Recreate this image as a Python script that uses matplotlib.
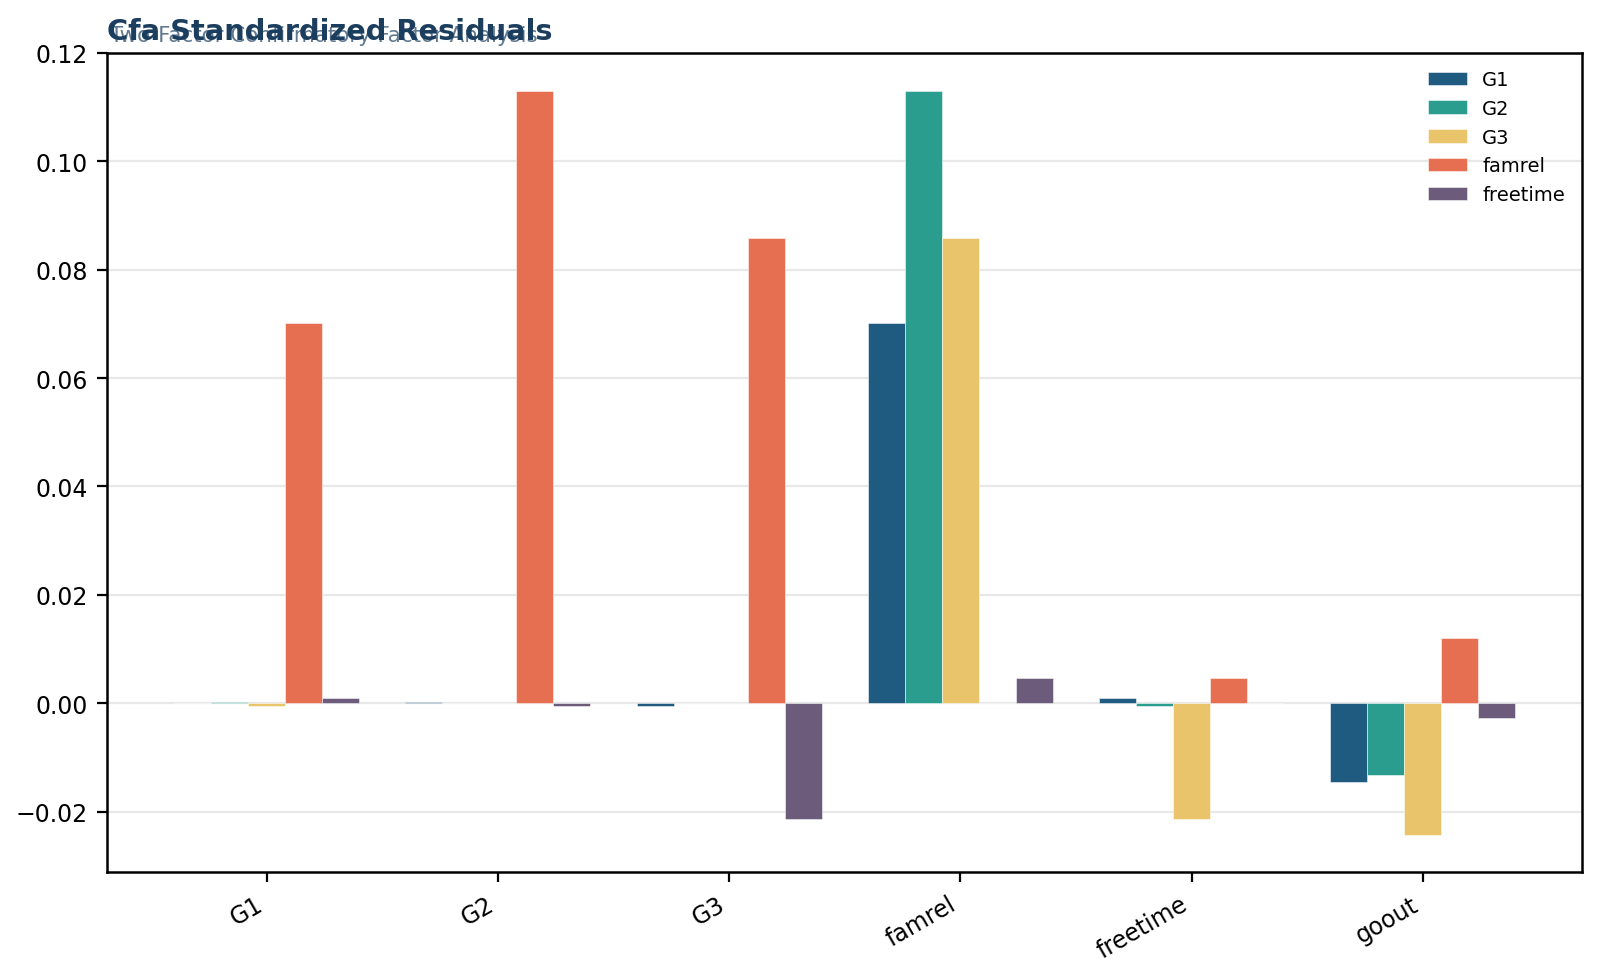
import numpy as np
import matplotlib
matplotlib.use("Agg")
import matplotlib.pyplot as plt

# residual matrix (rows = series, cols = variables)
variables = ["G1", "G2", "G3", "famrel", "freetime", "goout"]
series_names = ["G1", "G2", "G3", "famrel", "freetime"]
res_G1 = [0.0, 0.0002, -0.0005, 0.0701, 0.0009, -0.0145]
res_G2 = [0.0002, 0.0, 0.0, 0.1130, -0.0006, -0.0133]
res_G3 = [-0.0005, 0.0, 0.0, 0.0859, -0.0214, -0.0243]
res_famrel = [0.0701, 0.1130, 0.0859, 0.0, 0.0047, 0.0120]
res_freetime = [0.0009, -0.0006, -0.0214, 0.0047, 0.0, -0.0027]
colors = ["#1f5a80", "#2a9d8f", "#e9c46a", "#e76f51", "#6d5b7b"]

all_res = [res_G1, res_G2, res_G3, res_famrel, res_freetime]

fig, ax = plt.subplots(figsize=(8, 4.89), dpi=200)
fig.subplots_adjust(left=0.067, right=0.989, bottom=0.107, top=0.945)

x = np.arange(len(variables))
width = 0.16
for i, (name, vals) in enumerate(zip(series_names, all_res)):
    offs = (i - 2) * width
    ax.bar(x + offs, vals, width, label=name, color=colors[i],
           edgecolor=(1, 1, 1, 0.6), linewidth=0.3, zorder=3)

ax.set_xticks(x)
ax.set_xticklabels(variables, rotation=30, ha="right", fontsize=8.5)
ax.set_ylim(-0.0312, 0.12)
ax.tick_params(axis="y", labelsize=8.5)
ax.grid(axis="y", color="#e8e8e8", linewidth=0.8, zorder=0)
ax.set_axisbelow(True)
for sp in ax.spines.values():
    sp.set_linewidth(0.9)

# title and subtitle sit on top of each other like the original
ax.set_title("Cfa Standardized Residuals", loc="left", fontsize=10.4,
             fontweight="bold", color="#1b3d5e", pad=5)
ax.text(0.002, 1.01, "Two-Factor Confirmatory Factor Analysis",
        transform=ax.transAxes, fontsize=7.7, color="#4f6b85", alpha=0.9,
        ha="left", va="bottom")

ax.legend(loc="upper right", frameon=False, fontsize=7)

fig.savefig("out.png", dpi=200)
